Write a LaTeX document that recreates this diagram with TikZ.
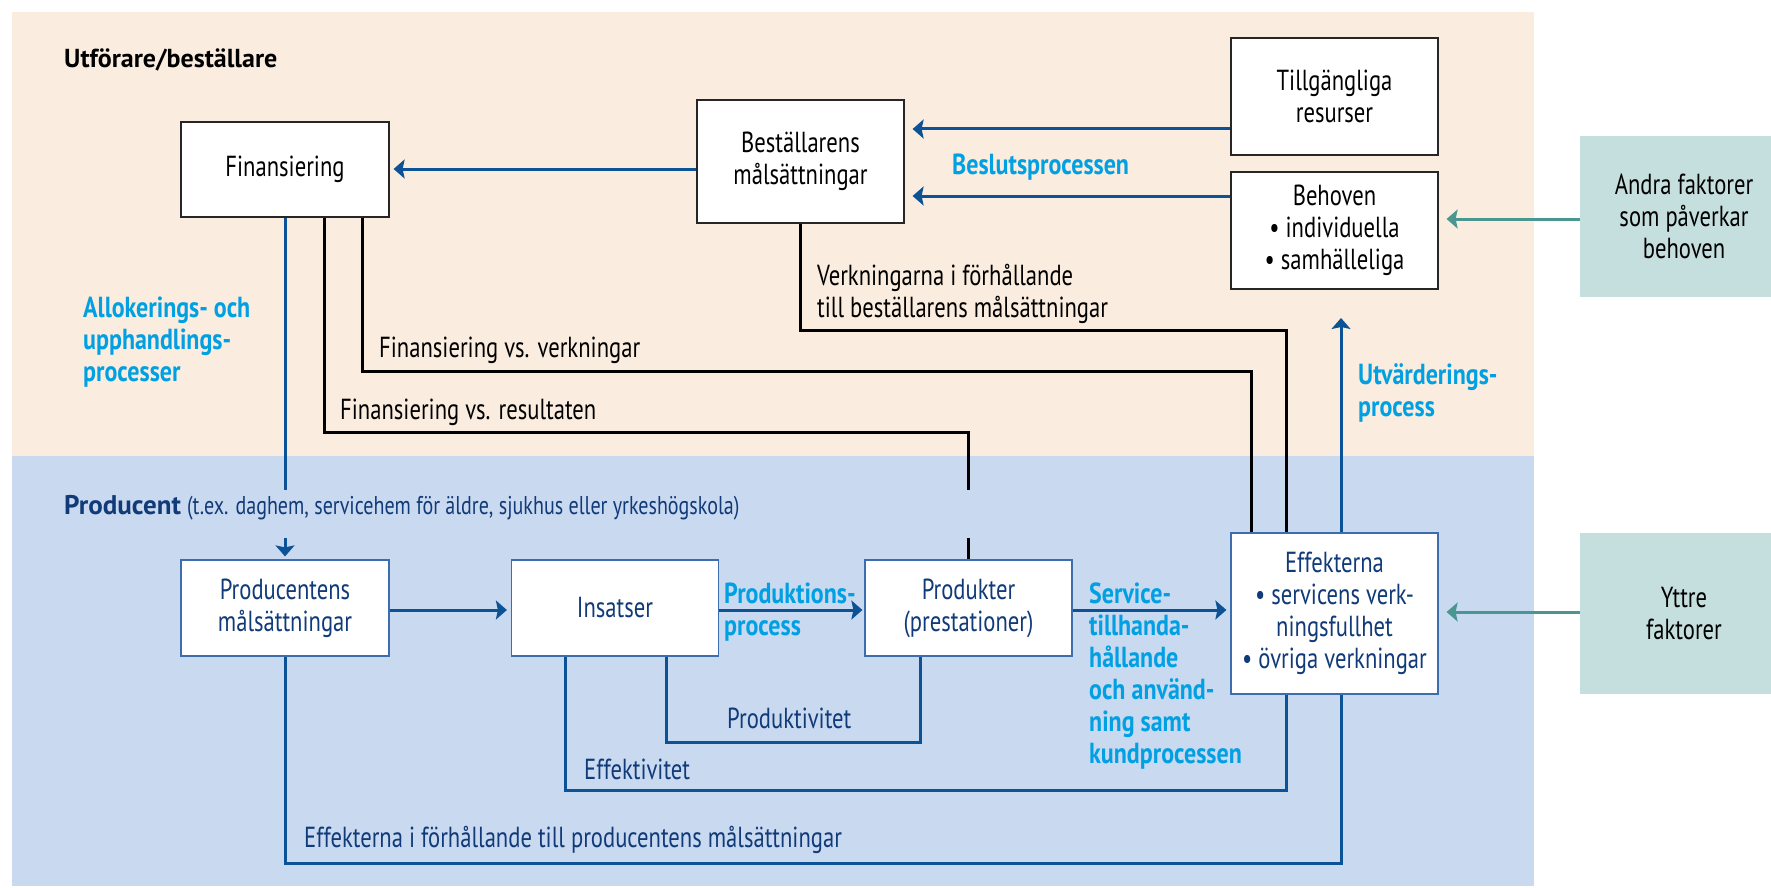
\documentclass[tikz,border=0pt]{standalone}
\usepackage{fontspec}
\setmainfont{PT Sans}[FakeStretch=0.78, BoldFeatures={FakeStretch=0.827}]
\newfontfamily\headfont{PT Sans}
\usetikzlibrary{arrows.meta}
\definecolor{peach}{RGB}{250,236,222}
\definecolor{bluebg}{RGB}{201,217,240}
\definecolor{tealbox}{RGB}{197,223,222}
\definecolor{lineblue}{RGB}{12,82,150}
\definecolor{txtblue}{RGB}{16,58,120}
\definecolor{boxblue}{RGB}{60,110,175}
\definecolor{cyantxt}{RGB}{0,160,227}
\definecolor{tealarrow}{RGB}{74,150,145}
\tikzset{
  box/.style={draw, fill=white, line width=1.2pt, inner sep=0pt, align=center, font=\fontsize{29}{32}\selectfont},
  topbox/.style={box, draw=black!85},
  botbox/.style={box, draw=boxblue, text=txtblue},
  sidebox/.style={fill=tealbox, inner sep=0pt, align=center, font=\fontsize{29}{32}\selectfont, minimum width=208pt, minimum height=161pt},
  conn/.style={line width=3pt, draw=lineblue},
  blk/.style={line width=3pt, draw=black},
  tip/.style={-{Stealth[length=11pt,width=19pt,inset=2pt]}},
  arr/.style={conn, tip},
  tarr/.style={line width=3pt, draw=tealarrow, -{Stealth[length=11pt,width=19pt,inset=2pt]}},
  lbl/.style={inner sep=0pt, anchor=base west, font=\fontsize{29}{32}\selectfont},
  mlbl/.style={inner sep=0pt, anchor=west, align=left, font=\fontsize{29}{32}\selectfont},
  clbl/.style={text=cyantxt, font=\bfseries\fontsize{29}{32}\selectfont},
}
\begin{document}
\begin{tikzpicture}[x=1pt,y=-1pt]
\useasboundingbox (0,0) rectangle (1771,888);
% backgrounds
\fill[peach] (12,12) rectangle (1534,456);
\fill[bluebg] (12,456) rectangle (1534,886);
\node[sidebox] (andra) at (1684,216.5) {Andra faktorer\\som påverkar\\behoven};
\node[sidebox] (yttre) at (1684,613.5) {Yttre\\faktorer};

% top boxes
\node[topbox, minimum width=208pt, minimum height=95pt] (fin) at (285,169.5) {Finansiering};
\node[topbox, minimum width=207pt, minimum height=123pt] (best) at (800.5,161.5) {Beställarens\\målsättningar};
\node[topbox, minimum width=207pt, minimum height=117pt] (till) at (1334.5,96.5) {Tillgängliga\\resurser};
\node[topbox, minimum width=207pt, minimum height=117pt] (beh) at (1334.5,230.5) {Behoven\\• individuella\\• samhälleliga};

% bottom boxes
\node[botbox, minimum width=208pt, minimum height=96pt] (prodm) at (285,608) {Producentens\\målsättningar};
\node[botbox, minimum width=207pt, minimum height=96pt] (ins) at (615,608) {Insatser};
\node[botbox, minimum width=207pt, minimum height=96pt] (prk) at (968.5,608) {Produkter\\(prestationer)};
\node[botbox, minimum width=207pt, minimum height=161pt] (eff) at (1334.5,613.5) {Effekterna\\• servicens verk-\\ningsfullhet\\• övriga verkningar};

% labels
\node[lbl, font=\headfont\bfseries\fontsize{26}{31}\selectfont] (title) at (64,68) {Utförare/beställare};
\node[mlbl, clbl] (alloc) at (83,342) {Allokerings- och\\upphandlings-\\processer};
\node[lbl, clbl] (beslut) at (952,174) {Beslutsprocessen};
\node[mlbl] (verkn) at (817,294) {Verkningarna i förhållande\\till beställarens målsättningar};
\node[lbl] (finverk) at (379,357) {Finansiering vs. verkningar};
\node[lbl] (finres) at (340,419) {Finansiering vs. resultaten};
\node[mlbl, clbl] (utv) at (1358,392.5) {Utvärderings-\\process};
\node[lbl, text=txtblue] (prod) at (64,514) {{\headfont\bfseries\fontsize{27}{32}\selectfont Producent} {\fontsize{25.7}{28}\selectfont(t.ex. daghem, servicehem för äldre, sjukhus eller yrkeshögskola)}};
\node[mlbl, clbl] (prodproc) at (724,612.5) {Produktions-\\process};
\node[mlbl, clbl] (service) at (1089,676.5) {Service-\\tillhanda-\\hållande\\och använd-\\ning samt\\kundprocessen};
\node[lbl, text=txtblue] (prodt) at (727,728) {Produktivitet};
\node[lbl, text=txtblue] (efft) at (584,779) {Effektivitet};
\node[lbl, text=txtblue] (effprod) at (304,847) {Effekterna i förhållande till producentens målsättningar};

% coordinates
\coordinate (v1) at (1286,330);
\coordinate (v2) at (1251,371);
\coordinate (v3) at (968,432);
\coordinate (v3a) at (968,490);
\coordinate (v3b) at (968,538);
\coordinate (g1) at (285,490);
\coordinate (g1b) at (285,538);
\coordinate (u1) at (1341,318);
\coordinate (w1) at (1341,863);
\coordinate (w2) at (1286,790);
\coordinate (w3) at (920,742);

% top arrows
\draw[arr, shorten >=8pt] ([yshift=-32.5pt]till.west) -- ([yshift=32.5pt]best.east);
\draw[arr, shorten >=8pt] ([yshift=34.5pt]beh.west) -- ([yshift=-34.5pt]best.east);
\draw[arr, shorten >=4pt] ([yshift=-7.5pt]best.west) -- ([yshift=0.5pt]fin.east);
\draw[tarr, shorten >=8pt] ([yshift=-2.5pt]andra.west) -- ([yshift=11.5pt]beh.east);
\draw[tarr, shorten >=8pt] ([yshift=1.5pt]yttre.west) -- ([yshift=1.5pt]eff.east);

% black relations
\draw[blk] (best.south) |- (v1) -- (v1 |- eff.north);
\draw[blk] ([xshift=77pt]fin.south) |- (v2) -- (v2 |- eff.north);
\draw[blk] ([xshift=39pt]fin.south) |- (v3) -- (v3a);
\draw[blk] (v3b) -- (v3b |- prk.north);

% blue flows
\draw[conn] (fin.south) -- (g1);
\draw[arr, shorten >=3pt] (g1b) -- (prodm.north);
\draw[arr, shorten >=4pt] ([yshift=-2pt]prodm.east) -- ([yshift=-2pt]ins.west);
\draw[arr, shorten >=2pt] ([yshift=-2pt]ins.east) -- ([yshift=-2pt]prk.west);
\draw[arr, shorten >=4pt] ([yshift=-2pt]prk.east) -- ([yshift=3.5pt]eff.west);
\draw[arr] (eff.north -| u1) -- (u1);
\draw[conn] (prodm.south) |- (w1) -- (w1 |- eff.south);
\draw[conn] ([xshift=-50pt]ins.south) |- (w2) -- (w2 |- eff.south);
\draw[conn] ([xshift=51pt]ins.south) |- (w3) -- (w3 |- prk.south);
\end{tikzpicture}
\end{document}
